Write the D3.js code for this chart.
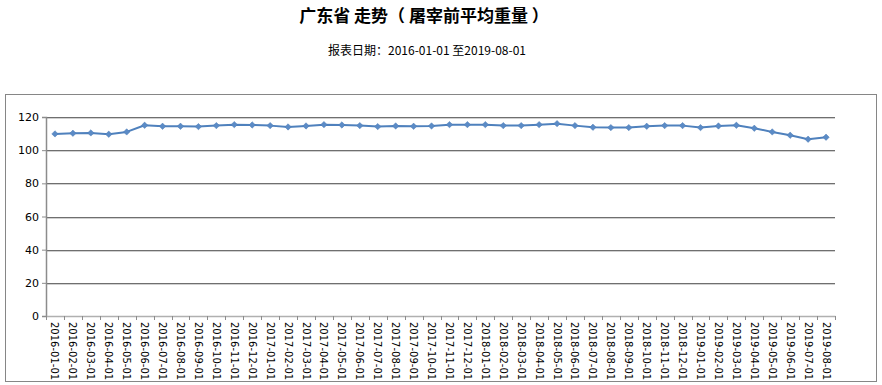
<!DOCTYPE html>
<html>
<head>
<meta charset="utf-8">
<script src="https://cdn.jsdelivr.net/npm/d3@7"></script>
<style>
  body { margin: 0; background: #fff; }
  svg { display: block; }
</style>
</head>
<body>
<div id="chart-area"></div>
<script>
var months = ["2016-01-01","2016-02-01","2016-03-01","2016-04-01","2016-05-01","2016-06-01",
              "2016-07-01","2016-08-01","2016-09-01","2016-10-01","2016-11-01","2016-12-01",
              "2017-01-01","2017-02-01","2017-03-01","2017-04-01","2017-05-01","2017-06-01",
              "2017-07-01","2017-08-01","2017-09-01","2017-10-01","2017-11-01","2017-12-01",
              "2018-01-01","2018-02-01","2018-03-01","2018-04-01","2018-05-01","2018-06-01",
              "2018-07-01","2018-08-01","2018-09-01","2018-10-01","2018-11-01","2018-12-01",
              "2019-01-01","2019-02-01","2019-03-01","2019-04-01","2019-05-01","2019-06-01",
              "2019-07-01","2019-08-01"];

var weights = [109.8, 110.2, 110.4, 109.6, 111.0, 115.0,
               114.4, 114.4, 114.2, 114.8, 115.4, 115.2,
               114.8, 114.0, 114.6, 115.4, 115.2, 114.8,
               114.2, 114.6, 114.4, 114.6, 115.4, 115.4,
               115.4, 114.8, 114.8, 115.4, 116.0, 114.8,
               113.8, 113.6, 113.6, 114.4, 114.8, 114.8,
               113.6, 114.6, 115.0, 113.2, 111.0, 109.0,
               106.6, 107.8];

var yTicks = [0, 20, 40, 60, 80, 100, 120];

var title = "广东省 走势（ 屠宰前平均重量 ）";
var subtitle = "报表日期：2016-01-01 至2019-08-01";

var W = 882, H = 385;
var margin = { left: 46, right: 47, top: 117, bottom: 69 },
    width = W - margin.left - margin.right,
    height = H - margin.top - margin.bottom;

var svg = d3.select("#chart-area").append("svg")
    .attr("width", W)
    .attr("height", H);

svg.append("text")
    .attr("x", 424).attr("y", 22)
    .attr("text-anchor", "middle")
    .attr("font-family", "Noto Sans CJK SC, sans-serif")
    .attr("font-size", 17)
    .attr("font-weight", "bold")
    .attr("fill", "#000")
    .text(title);

svg.append("text")
    .attr("x", 427).attr("y", 55)
    .attr("text-anchor", "middle")
    .attr("font-family", "Noto Sans CJK SC, sans-serif")
    .attr("font-size", 12)
    .attr("fill", "#000")
    .text(subtitle);

// outer chart frame
svg.append("rect")
    .attr("x", 5.5).attr("y", 94.5)
    .attr("width", 871).attr("height", 287)
    .attr("fill", "none")
    .attr("stroke", "#868686");

var g = svg.append("g")
    .attr("transform", "translate(" + margin.left + "," + margin.top + ")");

var x = d3.scaleBand().domain(months).range([0, width]);
var y = d3.scaleLinear().domain([0, 120]).range([height, 0]);

// gridlines: dark line with a light shadow beneath
yTicks.forEach(function(t) {
    if (t === 0) return;
    g.append("line")
        .attr("x1", 0).attr("x2", width)
        .attr("y1", Math.round(y(t)) + 1.5).attr("y2", Math.round(y(t)) + 1.5)
        .attr("stroke", "#d0d0d0");
    g.append("line")
        .attr("x1", 0).attr("x2", width)
        .attr("y1", Math.round(y(t)) + 0.5).attr("y2", Math.round(y(t)) + 0.5)
        .attr("stroke", "#6f6f6f");
});

// y axis
var yAxis = g.append("g")
    .call(d3.axisLeft(y).tickValues(yTicks).tickSize(4).tickPadding(3));
yAxis.select(".domain").attr("stroke", "#8c8c8c").attr("stroke-width", 1.5);
yAxis.selectAll(".tick line").attr("stroke", "#8c8c8c");
yAxis.selectAll("text")
    .attr("font-family", "DejaVu Sans, sans-serif")
    .attr("font-size", 11)
    .attr("fill", "#000");

// x axis with ticks at category boundaries
var xAxis = g.append("g")
    .attr("transform", "translate(0," + height + ")")
    .call(d3.axisBottom(x).tickSize(0).tickSizeOuter(0));
xAxis.select(".domain").attr("stroke", "#b0b0b0").attr("stroke-width", 1.5);

var bounds = months.map(function(m) { return x(m); }).concat([width]);
xAxis.selectAll(".bound")
    .data(bounds)
    .enter().append("line")
    .attr("class", "bound")
    .attr("x1", function(d) { return Math.round(d) + 0.5; })
    .attr("x2", function(d) { return Math.round(d) + 0.5; })
    .attr("y1", 0).attr("y2", 4)
    .attr("stroke", "#8c8c8c");

xAxis.selectAll(".tick text")
    .attr("font-family", "DejaVu Sans, sans-serif")
    .attr("font-size", 10)
    .attr("fill", "#000")
    .attr("text-anchor", "start")
    .attr("transform", "rotate(90)")
    .attr("x", 6)
    .attr("y", 0)
    .attr("dy", "0.35em");

// series line
var line = d3.line()
    .x(function(d, i) { return x(months[i]) + x.bandwidth() / 2; })
    .y(function(d) { return y(d); });

g.append("path")
    .datum(weights)
    .attr("d", line)
    .attr("fill", "none")
    .attr("stroke", "#4f81bd")
    .attr("stroke-width", 2)
    .attr("stroke-linejoin", "round");

g.selectAll(".marker")
    .data(weights)
    .enter().append("path")
    .attr("class", "marker")
    .attr("d", d3.symbol().type(d3.symbolDiamond2).size(26))
    .attr("transform", function(d, i) {
        return "translate(" + (x(months[i]) + x.bandwidth() / 2) + "," + y(d) + ")";
    })
    .attr("fill", "#5b8bc6")
    .attr("stroke", "#4a7ab5")
    .attr("stroke-width", 0.5);
</script>
</body>
</html>
